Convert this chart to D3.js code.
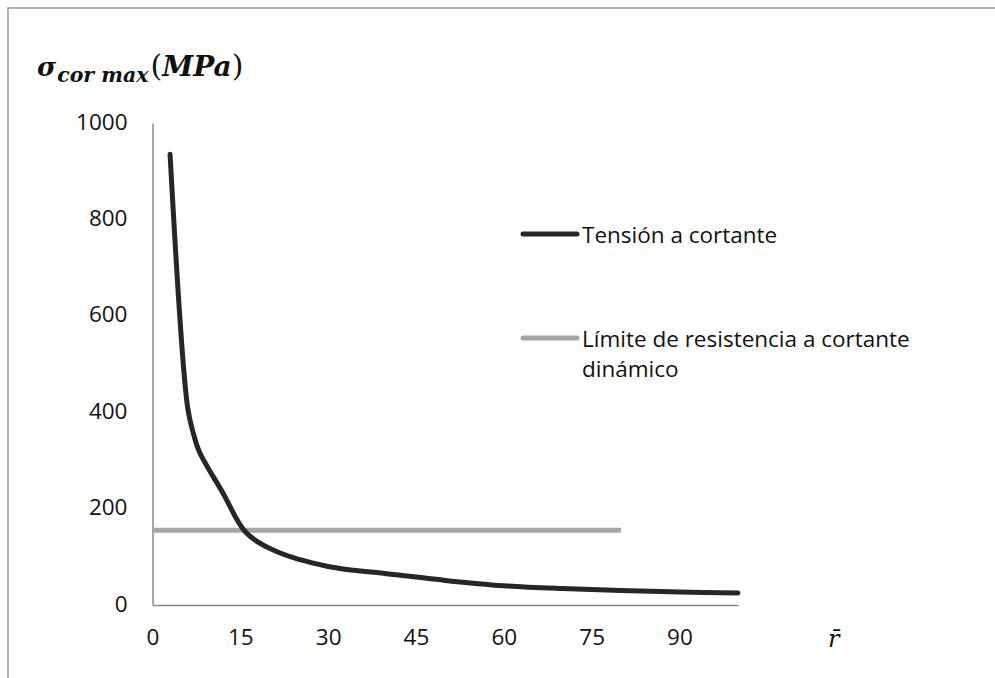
<!DOCTYPE html>
<html>
<head>
<meta charset="utf-8">
<script src="https://cdn.jsdelivr.net/npm/d3@7"></script>
<style>
  body { margin: 0; background: #fff; }
  svg { display: block; }
</style>
</head>
<body>
<svg id="chart" width="995" height="678"></svg>
<script>
// values
const rValues = [3, 6, 7, 8, 12, 16, 21, 30, 40, 50, 60, 70, 80, 90, 100];
const shearStress = [935, 410, 355, 318, 233, 150, 112, 80, 65, 51, 40, 34, 30, 27, 25];
const limitR = [0, 80];
const limitValue = [155, 155];
const xTicks = [0, 15, 30, 45, 60, 75, 90];
const yTicks = [0, 200, 400, 600, 800, 1000];
const seriesNames = ["Tensión a cortante", "Límite de resistencia a cortante dinámico"];

const svg = d3.select("#chart");
const font = "'Open Sans', sans-serif";

// outer frame (clipped on right / bottom like the screenshot)
svg.append("rect")
  .attr("x", 8).attr("y", 8)
  .attr("width", 1100).attr("height", 800)
  .attr("fill", "none")
  .attr("stroke", "#999").attr("stroke-width", 1.5);

const x = d3.scaleLinear().domain([0, 100]).range([152.5, 738]);
const y = d3.scaleLinear().domain([0, 1000]).range([605, 123]);

// axes
const gx = svg.append("g").attr("transform", `translate(0,${y(0)})`)
  .call(d3.axisBottom(x).tickValues(xTicks).tickSize(0).tickPadding(0).tickFormat(d3.format("d")));
const gy = svg.append("g").attr("transform", `translate(${x(0)},0)`)
  .call(d3.axisLeft(y).tickValues(yTicks).tickSize(0).tickPadding(0).tickFormat(d3.format("d")));

[gx, gy].forEach(g => {
  g.select(".domain").attr("stroke", "#888").attr("stroke-width", 1.5);
  g.selectAll("text").attr("font-family", font).attr("font-size", 22.5).attr("fill", "#111");
});
gx.selectAll("text").attr("dy", null).attr("y", 34).attr("dominant-baseline", "middle");
gy.selectAll("text").attr("dy", null).attr("x", -25).attr("dominant-baseline", "middle");

// series
const line = d3.line().x(d => x(d[0])).y(d => y(d[1]));

svg.append("path")
  .datum(d3.zip(limitR, limitValue))
  .attr("d", line)
  .attr("fill", "none")
  .attr("stroke", "#a6a6a6").attr("stroke-width", 5);

svg.append("path")
  .datum(d3.zip(rValues, shearStress))
  .attr("d", line.curve(d3.curveCatmullRom.alpha(0.5)))
  .attr("fill", "none")
  .attr("stroke", "#262626").attr("stroke-width", 5)
  .attr("stroke-linecap", "round").attr("stroke-linejoin", "round");

// legend
const legend = svg.append("g").attr("transform", "translate(523,0)");
const legendItems = [
  { color: "#262626", y: 234, lines: [seriesNames[0]] },
  { color: "#a6a6a6", y: 338, lines: ["Límite de resistencia a cortante", "dinámico"] }
];
legendItems.forEach(it => {
  legend.append("line")
    .attr("x1", 0).attr("x2", 54)
    .attr("y1", it.y).attr("y2", it.y)
    .attr("stroke", it.color).attr("stroke-width", 5)
    .attr("stroke-linecap", "round");
  const t = legend.append("text")
    .attr("x", 59).attr("y", it.y + 9)
    .attr("font-family", font).attr("font-size", 22.5).attr("fill", "#111");
  it.lines.forEach((s, i) => {
    t.append("tspan").attr("x", 59).attr("dy", i ? 30 : 0).text(s);
  });
});

// y axis title: sigma_{cor max}(MPa)
const title = svg.append("text")
  .attr("x", 37).attr("y", 76)
  .attr("font-family", "'DejaVu Serif', serif")
  .attr("font-weight", "bold")
  .attr("fill", "#111");
title.append("tspan").attr("font-size", 26).attr("font-style", "italic").text("σ");
title.append("tspan").attr("font-size", 20.5).attr("font-style", "italic").attr("dy", 6).attr("dx", 1).text("cor max");
title.append("tspan").attr("font-size", 30).attr("font-weight", "normal").attr("dy", -6).attr("dx", 2).text("(");
title.append("tspan").attr("font-size", 28).attr("font-style", "italic").text("MPa");
title.append("tspan").attr("font-size", 30).attr("font-weight", "normal").text(")");

// x axis title: r bar
svg.append("text")
  .attr("x", 828).attr("y", 647)
  .attr("font-family", "'DejaVu Serif', serif")
  .attr("font-style", "italic")
  .attr("font-size", 24).attr("fill", "#111")
  .text("r\u0304");
</script>
</body>
</html>
